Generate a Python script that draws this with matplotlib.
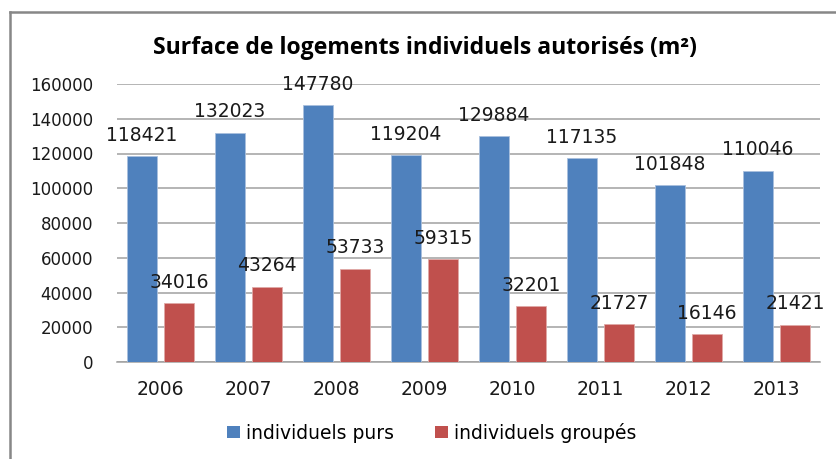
import matplotlib
matplotlib.use("Agg")
from matplotlib import pyplot as plt
from matplotlib.patches import Patch
from matplotlib.lines import Line2D
import numpy as np

# donnees
annees = ['2006', '2007', '2008', '2009', '2010', '2011', '2012', '2013']
purs = [118421, 132023, 147780, 119204, 129884, 117135, 101848, 110046]
groupes = [34016, 43264, 53733, 59315, 32201, 21727, 16146, 21421]
legende = ['individuels purs', 'individuels groupés']
titre = 'Surface de logements individuels autorisés (m²)'

bleu = '#4F81BD'
rouge = '#C0504D'

W, H = 836, 459
fig = plt.figure(figsize=(W / 100, H / 100), dpi=100)
fig.patch.set_facecolor('white')

# zone de tracé (en pixels -> fraction)
ax = fig.add_axes([116.5 / W, 97 / H, 704 / W, 278 / H])

x = np.arange(len(annees))
larg = 0.335
b1 = ax.bar(x - 0.21, purs, larg, color=bleu, edgecolor='#A9C0DE', linewidth=0.6, zorder=3)
b2 = ax.bar(x + 0.21, groupes, larg, color=rouge, edgecolor='#E0A9A7', linewidth=0.6, zorder=3)

for barres in (b1, b2):
    for b in barres:
        v = b.get_height()
        ax.annotate(str(int(v)), (b.get_x() + b.get_width() / 2, v),
                    xytext=(0, 15), textcoords='offset points',
                    ha='center', va='center', fontsize=13.5, color='#1a1a1a', zorder=4)

ax.set_xlim(-0.5, 7.5)
ax.set_ylim(0, 160000)
ax.set_yticks(np.arange(0, 160001, 20000))
ax.set_xticks(x)
ax.set_xticklabels(annees)
ax.yaxis.grid(True, color='#A0A0A0', linewidth=1.1, zorder=0)
ax.set_axisbelow(True)
for s in ['top', 'right', 'left']:
    ax.spines[s].set_visible(False)
ax.spines['bottom'].set_color('#A0A0A0')
ax.spines['bottom'].set_linewidth(1.1)
ax.tick_params(axis='y', length=0, pad=17, labelsize=12, labelcolor='#1a1a1a')
ax.tick_params(axis='x', length=0, pad=13, labelsize=13.5, labelcolor='#1a1a1a')

fig.text(425 / W, 1 - 47.5 / H, titre, ha='center', va='center',
         fontsize=16.6, fontweight='bold', family=['Open Sans', 'DejaVu Sans'])

poignees = [Patch(facecolor=bleu), Patch(facecolor=rouge)]
fig.legend(poignees, legende, loc='center', bbox_to_anchor=(432 / W, 1 - 433 / H),
           ncol=2, frameon=False, fontsize=13.5, handlelength=0.65, handleheight=0.6,
           handletextpad=0.35, columnspacing=2.2)

# cadre gris du graphique
fig.add_artist(Line2D([9.5 / W, 9.5 / W], [0, 1 - 12 / H], color='#878787', linewidth=1.8,
                      transform=fig.transFigure))
fig.add_artist(Line2D([9.5 / W, 1], [1 - 12 / H, 1 - 12 / H], color='#878787', linewidth=1.8,
                      transform=fig.transFigure))

fig.savefig('out.png', dpi=100)
